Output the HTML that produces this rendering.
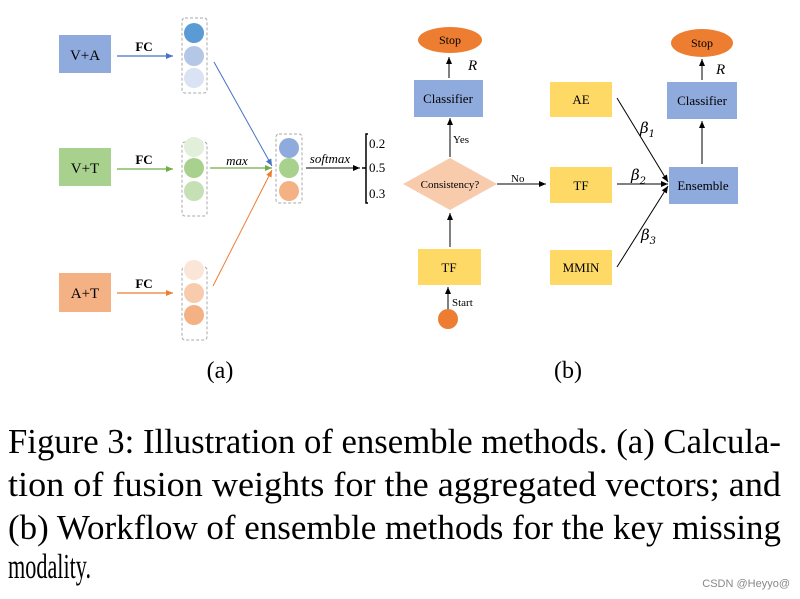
<!DOCTYPE html>
<html><head><meta charset="utf-8"><style>html,body{margin:0;padding:0;background:#fff}svg{display:block}</style></head><body>
<svg width="800" height="599" viewBox="0 0 800 599" xmlns="http://www.w3.org/2000/svg" font-family="Liberation Serif, serif">
<defs>
<marker id="ab" markerWidth="8" markerHeight="8" refX="7" refY="4" orient="auto" markerUnits="userSpaceOnUse"><path d="M0,1 L7,4 L0,7 z" fill="#4472c4"/></marker>
<marker id="ag" markerWidth="8" markerHeight="8" refX="7" refY="4" orient="auto" markerUnits="userSpaceOnUse"><path d="M0,1 L7,4 L0,7 z" fill="#70ad47"/></marker>
<marker id="ao" markerWidth="8" markerHeight="8" refX="7" refY="4" orient="auto" markerUnits="userSpaceOnUse"><path d="M0,1 L7,4 L0,7 z" fill="#ed7d31"/></marker>
<marker id="ak" markerWidth="8" markerHeight="8" refX="7" refY="4" orient="auto" markerUnits="userSpaceOnUse"><path d="M0,1 L7,4 L0,7 z" fill="#000"/></marker>
</defs>
<rect x="59" y="35" width="52" height="38" fill="#8faadc"/>
<text x="85" y="60" font-size="15" text-anchor="middle">V+A</text>
<rect x="59" y="148" width="52" height="38" fill="#a9d18e"/>
<text x="85" y="173" font-size="15" text-anchor="middle">V+T</text>
<rect x="59" y="273" width="52" height="39" fill="#f4b183"/>
<text x="85" y="298" font-size="15" text-anchor="middle">A+T</text>

<line x1="117" y1="56" x2="173" y2="56" stroke="#4472c4" stroke-width="1.2" marker-end="url(#ab)"/>
<line x1="117" y1="169" x2="173" y2="169" stroke="#70ad47" stroke-width="1.2" marker-end="url(#ag)"/>
<line x1="117" y1="293" x2="173" y2="293" stroke="#ed7d31" stroke-width="1.2" marker-end="url(#ao)"/>
<text x="144" y="51" font-size="13" font-weight="bold" text-anchor="middle">FC</text>
<text x="144" y="164" font-size="13" font-weight="bold" text-anchor="middle">FC</text>
<text x="144" y="288" font-size="13" font-weight="bold" text-anchor="middle">FC</text>

<g stroke="#aaa" stroke-dasharray="3,2" fill="none"><rect x="182" y="18" width="25" height="75" rx="3"/><rect x="182" y="142" width="25" height="74" rx="3"/><rect x="182" y="267" width="25" height="73" rx="3"/><rect x="276" y="134" width="26" height="69" rx="3"/></g>
<circle cx="194" cy="33" r="10" fill="#5b9bd5"/><circle cx="194" cy="56" r="10" fill="#b4c7e7"/><circle cx="194" cy="78" r="10" fill="#dae3f3"/>
<circle cx="194" cy="147" r="10" fill="#e2efda"/><circle cx="194" cy="168" r="10" fill="#a9d18e"/><circle cx="194" cy="191" r="10" fill="#c5e0b4"/>
<circle cx="194" cy="270" r="10" fill="#fbe5d6"/><circle cx="194" cy="293" r="10" fill="#f8cbad"/><circle cx="194" cy="315" r="10" fill="#f4b183"/>
<circle cx="289" cy="148" r="10" fill="#8faadc"/><circle cx="289" cy="168" r="10" fill="#a9d18e"/><circle cx="289" cy="191" r="10" fill="#f4b183"/>

<line x1="214" y1="62" x2="272" y2="166" stroke="#4472c4" stroke-width="1" marker-end="url(#ab)"/>
<line x1="210" y1="168" x2="272" y2="168" stroke="#70ad47" stroke-width="1.2" marker-end="url(#ag)"/>
<line x1="213" y1="286" x2="272" y2="170" stroke="#ed7d31" stroke-width="1" marker-end="url(#ao)"/>
<text x="237" y="165" font-size="13" font-style="italic" text-anchor="middle">max</text>
<line x1="306" y1="168" x2="360" y2="168" stroke="#000" stroke-width="1" marker-end="url(#ak)"/>
<text x="330" y="163" font-size="13" font-style="italic" text-anchor="middle">softmax</text>
<path d="M368,134 L366,134 L366,203 L368,203 M362,168 L366,168" stroke="#000" stroke-width="1.5" fill="none"/>
<text x="369" y="148" font-size="13">0.2</text>
<text x="369" y="172" font-size="13">0.5</text>
<text x="369" y="198" font-size="13">0.3</text>

<ellipse cx="450" cy="40" rx="32" ry="13" fill="#ed7d31"/>
<text x="450" y="44" font-size="12" text-anchor="middle">Stop</text>
<line x1="449" y1="78" x2="449" y2="57" stroke="#000" marker-end="url(#ak)"/>
<text x="468" y="70" font-size="15" font-style="italic">R</text>
<rect x="414" y="80" width="69" height="37" fill="#8faadc"/>
<text x="448" y="103" font-size="13" text-anchor="middle">Classifier</text>
<line x1="450" y1="157" x2="450" y2="118" stroke="#000" marker-end="url(#ak)"/>
<text x="453" y="143" font-size="11">Yes</text>
<polygon points="403,184 450,158 497,184 450,210" fill="#f8cbad"/>
<text x="450" y="188" font-size="11" text-anchor="middle">Consistency?</text>
<line x1="450" y1="247" x2="450" y2="213" stroke="#000" marker-end="url(#ak)"/>
<rect x="418" y="249" width="63" height="36" fill="#ffd966"/>
<text x="449" y="272" font-size="13" text-anchor="middle">TF</text>
<line x1="448" y1="310" x2="448" y2="287" stroke="#000" marker-end="url(#ak)"/>
<text x="452" y="306" font-size="11">Start</text>
<circle cx="448" cy="319" r="10" fill="#ed7d31"/>
<line x1="497" y1="184" x2="546" y2="184" stroke="#000" marker-end="url(#ak)"/>
<text x="511" y="182" font-size="11">No</text>

<rect x="550" y="82" width="62" height="35" fill="#ffd966"/>
<text x="581" y="104" font-size="13" text-anchor="middle">AE</text>
<rect x="550" y="167" width="62" height="36" fill="#ffd966"/>
<text x="581" y="190" font-size="13" text-anchor="middle">TF</text>
<rect x="550" y="250" width="62" height="35" fill="#ffd966"/>
<text x="581" y="272" font-size="13" text-anchor="middle">MMIN</text>

<rect x="669" y="167" width="69" height="37" fill="#8faadc"/>
<text x="703" y="190" font-size="13" text-anchor="middle">Ensemble</text>
<rect x="667" y="82" width="70" height="37" fill="#8faadc"/>
<text x="702" y="105" font-size="13" text-anchor="middle">Classifier</text>
<ellipse cx="702" cy="43" rx="31" ry="14" fill="#ed7d31"/>
<text x="702" y="47" font-size="12" text-anchor="middle">Stop</text>
<line x1="702" y1="80" x2="702" y2="59" stroke="#000" marker-end="url(#ak)"/>
<text x="716" y="74" font-size="15" font-style="italic">R</text>
<line x1="702" y1="164" x2="702" y2="121" stroke="#000" marker-end="url(#ak)"/>

<line x1="617" y1="98" x2="668" y2="182" stroke="#000" marker-end="url(#ak)"/>
<line x1="617" y1="184" x2="668" y2="184" stroke="#000" marker-end="url(#ak)"/>
<line x1="617" y1="267" x2="668" y2="186" stroke="#000" marker-end="url(#ak)"/>
<text x="640" y="133" font-size="15" font-style="italic" font-family="DejaVu Serif, serif">β<tspan font-size="10" dy="4">1</tspan></text>
<text x="631" y="180" font-size="15" font-style="italic" font-family="DejaVu Serif, serif">β<tspan font-size="10" dy="4">2</tspan></text>
<text x="641" y="240" font-size="15" font-style="italic" font-family="DejaVu Serif, serif">β<tspan font-size="10" dy="4">3</tspan></text>

<text x="220" y="378" font-size="24" text-anchor="middle">(a)</text>
<text x="568" y="378" font-size="24" text-anchor="middle">(b)</text>

<g font-size="35">
<text x="8" y="453" textLength="773" lengthAdjust="spacingAndGlyphs">Figure 3: Illustration of ensemble methods. (a) Calcula-</text>
<text x="8" y="496" textLength="773" lengthAdjust="spacingAndGlyphs">tion of fusion weights for the aggregated vectors; and</text>
<text x="8" y="539" textLength="773" lengthAdjust="spacingAndGlyphs">(b) Workflow of ensemble methods for the key missing</text>
<text x="8" y="578" textLength="83" lengthAdjust="spacingAndGlyphs">modality.</text>
</g>
<text x="790" y="587" font-size="11" fill="#888" text-anchor="end" font-family="Liberation Sans, sans-serif">CSDN @Heyyo@</text>
</svg>
</body></html>
